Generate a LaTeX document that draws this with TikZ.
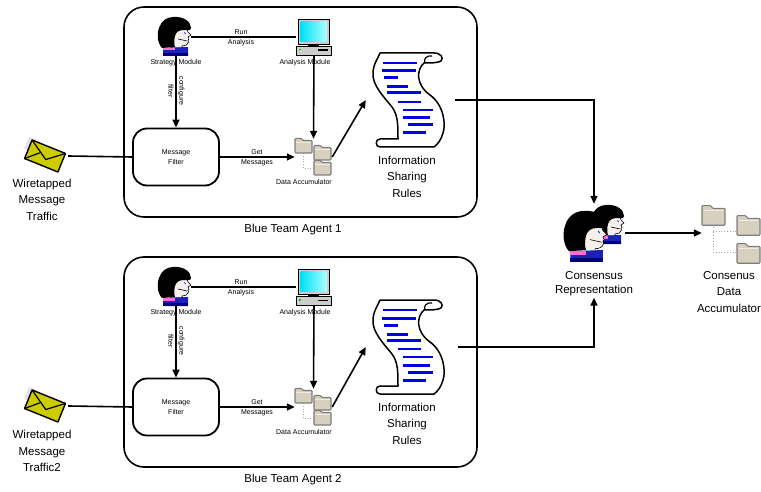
\documentclass[tikz,border=0pt]{standalone}
\usepackage{fontspec}
\setmainfont{Liberation Sans}
\usetikzlibrary{arrows.meta,calc}

\definecolor{skin}{RGB}{246,240,236}
\definecolor{shirt}{RGB}{25,35,185}
\definecolor{shirtdk}{RGB}{0,0,120}
\definecolor{pinkstrip}{RGB}{255,110,200}
\definecolor{screenA}{RGB}{0,225,245}
\definecolor{screenB}{RGB}{170,255,255}
\definecolor{casegray}{RGB}{205,205,205}
\definecolor{foldertan}{RGB}{216,208,190}
\definecolor{folderedge}{RGB}{125,125,125}
\definecolor{envyellow}{RGB}{204,204,0}
\definecolor{ruleblue}{RGB}{0,0,235}

\tikzset{
  wire/.style={line width=1.6pt},
  arr/.style={wire,-{Triangle[length=8pt,width=7pt]}},
  agentbox/.style={draw,line width=1.6pt,rounded corners=20pt,inner sep=0pt},
  filterbox/.style={draw,line width=1.8pt,rounded corners=14pt,inner sep=0pt,
    minimum width=86pt,minimum height=57pt,align=center,font=\fontsize{7}{10}\selectfont},
  slotbox/.style={inner sep=0pt},
  tiny/.style={inner sep=0pt,align=center,font=\fontsize{7}{10}\selectfont},
  biglabel/.style={inner sep=0pt,align=center,font=\fontsize{11.5}{16.5}\selectfont},
  dots/.style={draw=gray!70,line width=0.8pt,dotted},
  % a person seen in profile
  headicon/.pic={
    \draw[fill=skin,line width=0.6pt]
      (-4,-9) -- (9,-9) .. controls (12,-9) and (13,-7) .. (13,-5)
      -- (16,-2) -- (13,0) -- (14,2) -- (13,3.5) -- (13.5,5)
      .. controls (13,8) and (10,9) .. (7,9) -- (7,11) -- (-4,11) -- cycle;
    \fill[black] (-2,-20) .. controls (9,-21) and (16,-15) .. (16,-9)
      .. controls (16,-6) and (12,-7) .. (9,-7)
      .. controls (4,-7) and (1,-5) .. (0,-1)
      .. controls (-1,3) and (-1,7) .. (0,10) -- (-13,11)
      .. controls (-18,6) and (-18,-4) .. (-16,-9)
      .. controls (-14,-16) and (-8,-20) .. (-2,-20) -- cycle;
    \draw[blue,line width=0.8pt] (9.5,-4.5) -- (10.5,-3);
    \draw[line width=0.6pt] (3,2) -- (12,4);
    \fill[shirt] (-12,11) -- (13,10) -- (13,19) -- (-12,19) -- cycle;
    \fill[shirtdk] (-12,16) rectangle (13,19);
    \fill[pinkstrip] (-12,11) rectangle (0,13.5);
  },
  % desktop computer
  pcicon/.pic={
    \draw[fill=casegray,line width=0.8pt] (-16,-18) rectangle (15,7);
    \shade[left color=screenA,right color=screenB] (-13.5,-15.5) rectangle (12.5,4.5);
    \fill[black] (-6,7) rectangle (5,9.5);
    \draw[fill=casegray,line width=0.8pt] (-17.5,9.5) rectangle (17.5,18);
    \fill[green!80!black] (-15.5,12) rectangle (-13.5,13.5);
    \fill[black] (3.5,12.5) rectangle (13.5,14);
  },
  % file folder, origin at its top left corner
  foldericon/.pic={
    \draw[draw=folderedge,fill=foldertan,line width=1.1pt,line join=round,rounded corners=0.8pt]
      (0,15) -- (0,0.5) -- (6.5,0.5) -- (8,2.5) -- (17,2.5) -- (17,15) -- cycle;
    \draw[draw=white!60!foldertan,line width=0.6pt] (1.2,4) -- (15.8,4);
  },
  % envelope
  mailicon/.pic={
    \fill[gray!22] (-22,-12) rectangle (-14,1);
    \draw[fill=envyellow,line width=1.4pt,line join=round] (-18,-10) rectangle (18,10);
    \draw[line width=1.2pt,line join=round] (-18,-10) -- (2,3) -- (18,-10);
    \draw[line width=1.2pt] (-18,10) -- (-6,-1);
  },
  % paper scroll with rule lines
  scrollicon/.pic={
    \draw[line width=1.5pt,fill=white,line join=round]
      (-28,-47) -- (26,-47)
      .. controls (33,-47) and (36,-42) .. (33,-39)
      .. controls (30,-37) and (22,-37) .. (16,-37)
      .. controls (8,-30) and (8,-15) .. (22,-5)
      .. controls (36,5) and (38,25) .. (35,33)
      .. controls (33,40) and (30,44) .. (26,47)
      -- (-28,47)
      .. controls (-33,47) and (-33,39) .. (-28,39)
      -- (-10,39)
      .. controls (-10,25) and (-10,15) .. (-16,7)
      .. controls (-24,-3) and (-36,-15) .. (-35,-27)
      .. controls (-35,-35) and (-30,-42) .. (-28,-47) -- cycle;
    \draw[line width=1.2pt] (17,-37) .. controls (15,-41) and (19,-45) .. (24,-44);
    \foreach \ya/\xa/\xb/\lw in {-37/-25/9/2,-29/-26/8/3,-22/-24/-10/3,-13/-21/0/3,
        -7/-21/13/3,2/-10/13/2,10/-5/25/2.5,18/-5/22/3,25/0/25/3,33/-5/18/3}
      \draw[ruleblue,line width=\lw pt] (\xa,\ya) -- (\xb,\ya);
  }
}

\begin{document}
\begin{tikzpicture}[x=1pt,y=-1pt]
\useasboundingbox (0,0) rectangle (761,492);

\foreach \i/\dy/\sy in {1/0/100,2/250/347}{
  % agent container and its caption
  \node[agentbox,minimum width=353pt,minimum height=210pt] (agent\i) at (300.5,112+\dy) {};
  \node[biglabel] (agentlbl\i) at (293,230+\dy) {Blue Team Agent \i};

  % strategy module
  \node[slotbox,minimum width=30pt,minimum height=38pt] (strat\i) at (176,37+\dy) {};
  \pic at (175,37+\dy) {headicon};
  \node[tiny] (stratlbl\i) at (176,63+\dy) {Strategy Module};

  % analysis module
  \node[slotbox,minimum width=35pt,minimum height=36pt] (comp\i) at (314,37+\dy) {};
  \pic at (314,37+\dy) {pcicon};
  \node[tiny] (complbl\i) at (305,63+\dy) {Analysis Module};

  % message filter
  \node[filterbox] (filter\i) at (176,157+\dy) {Message\\Filter};

  % data accumulator
  \node[slotbox,minimum width=37pt,minimum height=36pt] (acc\i) at (313.5,157+\dy) {};
  \draw[dots] (303,153+\dy) -- (303,168+\dy) -- (314,168+\dy);
  \pic at (295,138+\dy) {foldericon};
  \pic at (314,145+\dy) {foldericon};
  \pic at (314,160+\dy) {foldericon};
  \node[tiny] (acclbl\i) at (304,182+\dy) {Data Accumulator};

  % information sharing rules
  \node[slotbox,minimum width=84pt,minimum height=96pt] (scroll\i) at (408,\sy) {};
  \pic at (408,\sy) {scrollicon};
  \node[biglabel] (scrolllbl\i) at (407,\sy+76.5) {Information\\Sharing\\Rules};

  % wiretapped traffic
  \node[slotbox,minimum width=46pt,minimum height=34pt] (mail\i) at (45,156+\dy) {};
  \pic[rotate=-22] at (45,156+\dy) {mailicon};

  % connectors inside the agent
  \draw[wire] (strat\i.east) -- (comp\i.west);
  \node[tiny] (runlbl\i) at (241,37.5+\dy) {Run\\Analysis};
  \draw[arr] (strat\i.south) -- (filter\i.north);
  \node[tiny,rotate=-90,font=\fontsize{7}{11}\selectfont] (cfglbl\i) at (176.5,91+\dy) {configure\\filter};
  \draw[arr] (comp\i.south) -- (acc\i.north);
  \draw[arr] (filter\i.east) -- (acc\i.west);
  \node[tiny] (getlbl\i) at (257,157.5+\dy) {Get\\Messages};
  \draw[arr] (acc\i.east) -- (scroll\i.west);
  \draw[wire] (mail\i.east) -- (filter\i.west);
}

\node[biglabel] (maillbl1) at (42,199.5) {Wiretapped\\Message\\Traffic};
\node[biglabel] (maillbl2) at (42,451) {Wiretapped\\Message\\Traffic2};

% consensus representation
\node[slotbox,minimum width=62pt,minimum height=58pt] (cons) at (594,233) {};
\pic at (608,225) {headicon};
\pic[scale=1.3] at (586,237) {headicon};
\node[biglabel,inner sep=2pt,font=\fontsize{11.5}{13.5}\selectfont] (conslbl) at (594,283.5) {Consensus\\Representation};

% consensus data accumulator
\node[slotbox,minimum width=58pt,minimum height=57pt] (cda) at (731,233) {};
\draw[dots] (713,224) -- (713,252) -- (737,252);
\draw[dots] (713,231) -- (737,231);
\pic[scale=1.35] at (702,205) {foldericon};
\pic[scale=1.35] at (737,215) {foldericon};
\pic[scale=1.35] at (737,243) {foldericon};
\node[biglabel] (cdalbl) at (729,292) {Consenus\\Data\\Accumulator};

% links from both agents to the consensus
\draw[arr] ($(scroll1.east)+(5,0)$) -| (cons.north);
\draw[arr] ($(scroll2.east)+(8,0)$) -| (conslbl.south);
\draw[arr] (cons.east) -- (cda.west);
\end{tikzpicture}
\end{document}
